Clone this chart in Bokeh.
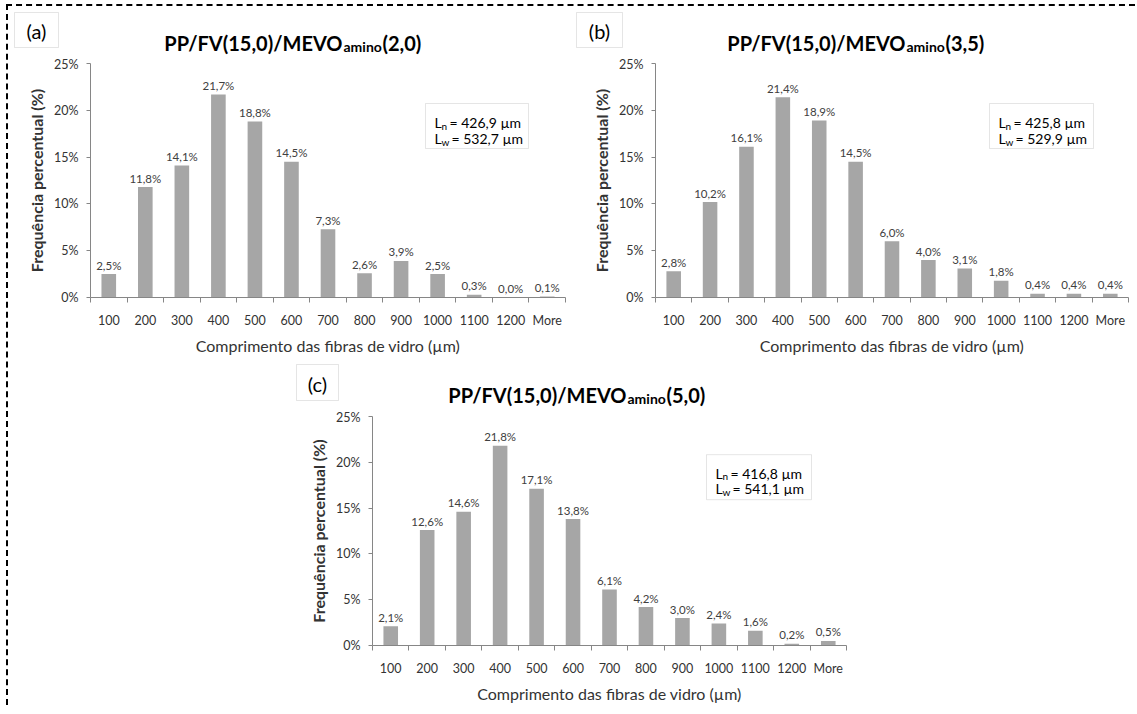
from bokeh.plotting import figure
from bokeh.models import (Range1d, FixedTicker, PrintfTickFormatter, Label,
                          BoxAnnotation, ColumnDataSource, Spacer)
from bokeh.layouts import row, column
from bokeh.core.properties import value
from bokeh.embed import file_html
from bokeh.resources import INLINE

# ---------------- data ----------------
categories = ["100", "200", "300", "400", "500", "600", "700", "800",
              "900", "1000", "1100", "1200", "More"]
freq_a = [2.5, 11.8, 14.1, 21.7, 18.8, 14.5, 7.3, 2.6, 3.9, 2.5, 0.3, 0.0, 0.1]
freq_b = [2.8, 10.2, 16.1, 21.4, 18.9, 14.5, 6.0, 4.0, 3.1, 1.8, 0.4, 0.4, 0.4]
freq_c = [2.1, 12.6, 14.6, 21.8, 17.1, 13.8, 6.1, 4.2, 3.0, 2.4, 1.6, 0.2, 0.5]
panel_tags = ["(a)", "(b)", "(c)"]
title_main = "PP/FV(15,0)/MEVO"
title_sub = "amino"
title_suffix = ["(2,0)", "(3,5)", "(5,0)"]
ln_values = ["426,9", "425,8", "416,8"]
lw_values = ["532,7", "529,9", "541,1"]
y_ticks = [0, 5, 10, 15, 20, 25]
x_title = "Comprimento das fibras de vidro (µm)"
y_title = "Frequência percentual (%)"

FONT = "Lato"
AXIS_GRAY = "#868686"
BAR_GRAY = "#A6A6A6"
TEXT_DARK = "#333333"
BOX_GRAY = "#A8A8A8"

# ---------------- layout geometry (page pixels) ----------------
geoms = [
    dict(x0=9, w=561, hy0=7, hh=50, cy0=57, ch=303,
         FL=91, FR=566, FT=64, FB=298,
         mevo_end=343, base=43, tag=(15, 13, 59, 48), box=(426, 104, 529, 149)),
    dict(x0=570, w=566, hy0=7, hh=50, cy0=57, ch=303,
         FL=656, FR=1129, FT=64, FB=298,
         mevo_end=906, base=43, tag=(577, 13, 623, 48), box=(990, 104, 1094, 149)),
    dict(x0=290, w=570, hy0=360, hh=50, cy0=410, ch=296,
         FL=373, FR=847, FT=417, FB=651,
         mevo_end=627, base=395, tag=(297, 365, 339, 401), box=(707, 456, 812, 502)),
]


def fmt(v):
    return ("%.1f" % v).replace(".", ",") + "%"


def make_header(tag, suffix, g):
    # frame covers the whole canvas; data units == page pixels (y downward)
    h = figure(width=g["w"], height=g["hh"],
               x_range=Range1d(g["x0"], g["x0"] + g["w"]),
               y_range=Range1d(g["hy0"] + g["hh"], g["hy0"]),
               x_axis_location=None, y_axis_location=None,
               output_backend="svg", toolbar_location=None,
               min_border=0, min_border_left=0, min_border_right=0,
               min_border_top=0, min_border_bottom=0)
    h.frame_align = False
    h.outline_line_color = None
    h.xgrid.visible = False
    h.ygrid.visible = False
    h.background_fill_color = "white"
    h.border_fill_color = "white"

    l, t, r, b = g["tag"]
    h.add_layout(BoxAnnotation(left=l, right=r, top=t, bottom=b, fill_alpha=0,
                               line_color=BOX_GRAY, line_width=1))
    h.add_layout(Label(x=(l + r) / 2, y=(t + b) / 2 + 1, text=tag, text_align="center",
                       text_baseline="middle", text_font=FONT, text_font_size="20px",
                       text_color="black"))

    me, base = g["mevo_end"], g["base"]
    h.add_layout(Label(x=me, y=base, text=title_main, text_align="right",
                       text_baseline="alphabetic", text_font=FONT, text_font_size="20px",
                       text_font_style="bold", text_color="black"))
    h.add_layout(Label(x=me + 1, y=base + 4, text=title_sub, text_align="left",
                       text_baseline="alphabetic", text_font=FONT, text_font_size="14px",
                       text_font_style="bold", text_color="black"))
    h.add_layout(Label(x=me + 40, y=base, text=suffix, text_align="left",
                       text_baseline="alphabetic", text_font=FONT, text_font_size="20px",
                       text_font_style="bold", text_color="black"))
    return h


def make_chart(values, ln, lw, g):
    n = len(categories)
    FL, FR, FT, FB = g["FL"], g["FR"], g["FT"], g["FB"]

    def dx(px):
        return -0.5 + (px - FL) / (FR - FL) * n

    def dy(py):
        return (FB - py) / (FB - FT) * 25.0

    p = figure(width=g["w"], height=g["ch"],
               x_range=Range1d(-0.5, n - 0.5), y_range=Range1d(0, 25),
               output_backend="svg", toolbar_location=None,
               min_border_left=FL - g["x0"], min_border_right=g["x0"] + g["w"] - FR,
               min_border_top=FT - g["cy0"], min_border_bottom=g["cy0"] + g["ch"] - FB)
    p.frame_align = False
    p.outline_line_color = None
    p.xgrid.visible = False
    p.ygrid.visible = False
    p.background_fill_color = "white"
    p.border_fill_color = "white"

    xs = list(range(n))
    src = ColumnDataSource(dict(x=xs, top=values, lab=[fmt(v) for v in values]))
    p.vbar(x="x", top="top", width=0.4, source=src,
           fill_color=BAR_GRAY, line_color=None)
    p.text(x="x", y="top", text="lab", source=src, text_align="center",
           text_baseline="alphabetic", y_offset=-9,
           text_font=value(FONT), text_font_size="11.5px", text_color="#404040")

    # x axis
    xa = p.xaxis[0]
    xa.ticker = FixedTicker(ticks=xs, minor_ticks=[i - 0.5 for i in range(n + 1)])
    xa.major_label_overrides = {i: c for i, c in enumerate(categories)}
    xa.major_tick_out = 0
    xa.major_tick_in = 0
    xa.minor_tick_out = 5
    xa.minor_tick_in = 0
    xa.axis_line_color = AXIS_GRAY
    xa.minor_tick_line_color = AXIS_GRAY
    xa.major_label_text_font = FONT
    xa.major_label_text_font_size = "12.5px"
    xa.major_label_text_color = TEXT_DARK
    xa.major_label_standoff = 10
    xa.axis_label = x_title
    xa.axis_label_text_font = FONT
    xa.axis_label_text_font_size = "16px"
    xa.axis_label_text_font_style = "normal"
    xa.axis_label_text_color = TEXT_DARK
    xa.axis_label_standoff = 5

    # y axis
    ya = p.yaxis[0]
    ya.ticker = FixedTicker(ticks=y_ticks)
    ya.formatter = PrintfTickFormatter(format="%d%%")
    ya.major_tick_out = 4
    ya.major_tick_in = 0
    ya.minor_tick_line_color = None
    ya.axis_line_color = AXIS_GRAY
    ya.major_tick_line_color = AXIS_GRAY
    ya.major_label_text_font = FONT
    ya.major_label_text_font_size = "12.5px"
    ya.major_label_text_color = TEXT_DARK
    ya.major_label_standoff = 8
    ya.axis_label = y_title
    ya.axis_label_text_font = FONT
    ya.axis_label_text_font_size = "16px"
    ya.axis_label_text_font_style = "bold"
    ya.axis_label_text_color = TEXT_DARK
    ya.axis_label_standoff = 5

    # Ln / Lw box
    bl, bt, br, bb = g["box"]
    p.add_layout(BoxAnnotation(left=dx(bl), right=dx(br), top=dy(bt), bottom=dy(bb),
                               fill_alpha=0, line_color=BOX_GRAY, line_width=1))
    tx0 = bl + 9
    for sub, val, base_y, wsub in (("n", ln, bt + 19, 5.5), ("w", lw, bt + 35, 7.5)):
        p.add_layout(Label(x=dx(tx0), y=dy(base_y), text="L", text_align="left",
                           text_baseline="alphabetic", text_font=FONT,
                           text_font_size="14px", text_color="black"))
        p.add_layout(Label(x=dx(tx0 + 7), y=dy(base_y + 3), text=sub, text_align="left",
                           text_baseline="alphabetic", text_font=FONT,
                           text_font_size="10px", text_color="black"))
        p.add_layout(Label(x=dx(tx0 + 7 + wsub + 2.5), y=dy(base_y), text="= " + val + " µm",
                           text_align="left", text_baseline="alphabetic", text_font=FONT,
                           text_font_size="14px", text_color="black"))
    return p


freqs = [freq_a, freq_b, freq_c]
blocks = []
for i in range(3):
    hdr = make_header(panel_tags[i], title_suffix[i], geoms[i])
    cht = make_chart(freqs[i], ln_values[i], lw_values[i], geoms[i])
    blocks.append(column(hdr, cht))

layout = column(
    row(blocks[0], blocks[1]),
    row(Spacer(width=geoms[2]["x0"] - geoms[0]["x0"], height=346), blocks[2]),
    styles={"border-top": "2px dashed #000", "border-left": "2px dashed #000",
            "margin-top": "4px", "margin-left": "6px"},
)

open("out.html", "w").write(file_html(layout, INLINE))
